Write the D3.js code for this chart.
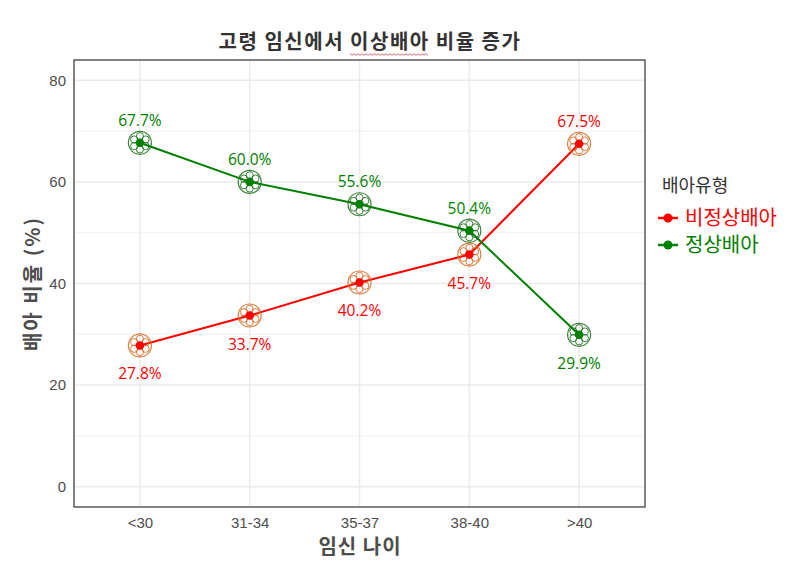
<!DOCTYPE html>
<html>
<head>
<meta charset="utf-8">
<script src="https://cdn.jsdelivr.net/npm/d3@7"></script>
<style>
  body { margin: 0; background: #fff; }
  text { font-family: "Noto Sans CJK KR", "Noto Sans", sans-serif; }
</style>
</head>
<body>
<div id="chart"></div>
<script>
// data
const ageGroups = ['<30', '31-34', '35-37', '38-40', '>40'];
const abnormal = [27.8, 33.7, 40.2, 45.7, 67.5];
const normal = [67.7, 60.0, 55.6, 50.4, 29.9];
const yTicks = [0, 20, 40, 60, 80];
const yMinor = [10, 30, 50, 70];

const series = [
    { name: '비정상배아', values: abnormal, other: normal, line: '#ff0000', ring: '#d2691e' },
    { name: '정상배아', values: normal, other: abnormal, line: '#008000', ring: '#1b6e1b' }
];

const W = 800, H = 574;
const m = { left: 74, right: 155, top: 60, bottom: 67 };

const svg = d3.select('#chart').append('svg')
    .attr('width', W)
    .attr('height', H);

const x = d3.scalePoint()
    .domain(ageGroups)
    .range([m.left, W - m.right])
    .padding(0.6);

const y = d3.scaleLinear()
    .domain([-4, 84])
    .range([H - m.bottom, m.top]);

// grid
const grid = svg.append('g');
grid.selectAll('.minor').data(yMinor).enter().append('line')
    .attr('x1', m.left).attr('x2', W - m.right)
    .attr('y1', d => y(d)).attr('y2', d => y(d))
    .attr('stroke', '#f0f0f0').attr('stroke-width', 1);
grid.selectAll('.major').data(yTicks).enter().append('line')
    .attr('x1', m.left).attr('x2', W - m.right)
    .attr('y1', d => y(d)).attr('y2', d => y(d))
    .attr('stroke', '#ebebeb').attr('stroke-width', 1.5);
grid.selectAll('.vx').data(ageGroups).enter().append('line')
    .attr('x1', d => x(d)).attr('x2', d => x(d))
    .attr('y1', m.top).attr('y2', H - m.bottom)
    .attr('stroke', '#ebebeb').attr('stroke-width', 1.5);

// axes
const yAxis = svg.append('g')
    .attr('transform', `translate(${m.left},0)`)
    .call(d3.axisLeft(y).tickValues(yTicks).tickSize(0).tickPadding(8));
yAxis.select('.domain').remove();
yAxis.selectAll('text').attr('font-size', 15).attr('fill', '#4d4d4d')
    .style('font-family', 'Arial, "Liberation Sans", sans-serif');

const xAxis = svg.append('g')
    .attr('transform', `translate(0,${H - m.bottom})`)
    .call(d3.axisBottom(x).tickSize(0).tickPadding(10));
xAxis.select('.domain').remove();
xAxis.selectAll('text').attr('font-size', 15).attr('fill', '#4d4d4d')
    .style('font-family', 'Arial, "Liberation Sans", sans-serif');

// panel border
svg.append('rect')
    .attr('x', m.left).attr('y', m.top)
    .attr('width', W - m.right - m.left)
    .attr('height', H - m.bottom - m.top)
    .attr('fill', 'none')
    .attr('stroke', '#333')
    .attr('stroke-width', 1.2);

const line = d3.line()
    .x((d, i) => x(ageGroups[i]))
    .y(d => y(d));

// lines
series.forEach(s => {
    svg.append('path')
        .datum(s.values)
        .attr('d', line)
        .attr('fill', 'none')
        .attr('stroke', s.line)
        .attr('stroke-width', 2);
});

// ring markers
const petals = d3.range(6).map(k => k * Math.PI / 3 + Math.PI / 6);
series.forEach(s => {
    const g = svg.append('g');
    const pts = g.selectAll('g').data(s.values).enter().append('g')
        .attr('transform', (d, i) => `translate(${x(ageGroups[i])},${y(d)})`);
    pts.append('circle').attr('r', 11.5)
        .attr('fill', 'none').attr('stroke', s.ring)
        .attr('stroke-opacity', 0.85).attr('stroke-width', 1.2);
    petals.forEach(a => {
        pts.append('circle')
            .attr('cx', 6.6 * Math.cos(a)).attr('cy', 6.6 * Math.sin(a))
            .attr('r', 3.6)
            .attr('fill', 'none').attr('stroke', s.ring)
            .attr('stroke-opacity', 0.85).attr('stroke-width', 1);
    });
    pts.append('circle').attr('r', 4.3).attr('fill', s.line);
});

// value labels: above when this series is higher, below otherwise
series.forEach(s => {
    svg.append('g').selectAll('text').data(s.values).enter().append('text')
        .attr('x', (d, i) => x(ageGroups[i]))
        .attr('y', (d, i) => y(d) + (d >= s.other[i] ? -17 : 34))
        .attr('text-anchor', 'middle')
        .attr('font-size', 15.5)
        .attr('fill', s.line)
        .style('font-family', '"Open Sans", "Noto Sans", sans-serif')
        .text(d => d.toFixed(1) + '%');
});

// title
const title = svg.append('text')
    .attr('x', 370).attr('y', 49)
    .attr('text-anchor', 'middle')
    .attr('font-size', 20).attr('font-weight', 'bold')
    .attr('letter-spacing', 1.5)
    .attr('fill', '#333');
title.append('tspan').text('고령 임신에서 ');
const marked = title.append('tspan').text('이상배아');
title.append('tspan').text(' 비율 증가');

// squiggle under the marked word
const bb = marked.node().getBBox();
const wave = d3.range(0, bb.width + 0.1, 2).map((dx, k) => [bb.x + dx, 54 + (k % 2 ? 1.2 : -0.2)]);
svg.append('path')
    .attr('d', d3.line()(wave))
    .attr('fill', 'none')
    .attr('stroke', '#e04040')
    .attr('stroke-width', 0.8);

// axis titles
svg.append('text')
    .attr('x', 360).attr('y', 554)
    .attr('text-anchor', 'middle')
    .attr('font-size', 20).attr('font-weight', 'bold')
    .attr('letter-spacing', 1)
    .attr('fill', '#4d4d4d')
    .text('임신 나이');

svg.append('text')
    .attr('transform', `translate(40,${(m.top + H - m.bottom) / 2}) rotate(-90)`)
    .attr('text-anchor', 'middle')
    .attr('font-size', 20).attr('font-weight', 'bold')
    .attr('letter-spacing', 2)
    .attr('fill', '#4d4d4d')
    .text('배아 비율 (%)');

// legend
const legend = svg.append('g').attr('transform', 'translate(662,0)');
legend.append('text')
    .attr('x', 0).attr('y', 192)
    .attr('font-size', 18)
    .attr('fill', '#333')
    .text('배아유형');
series.forEach((s, i) => {
    const ly = 218 + i * 27;
    legend.append('line')
        .attr('x1', -4).attr('x2', 16)
        .attr('y1', ly).attr('y2', ly)
        .attr('stroke', s.line).attr('stroke-width', 2.5);
    legend.append('circle')
        .attr('cx', 6).attr('cy', ly).attr('r', 4.5)
        .attr('fill', s.line);
    legend.append('text')
        .attr('x', 23).attr('y', ly + 7)
        .attr('font-size', 20)
        .attr('fill', s.line)
        .text(s.name);
});
</script>
</body>
</html>
